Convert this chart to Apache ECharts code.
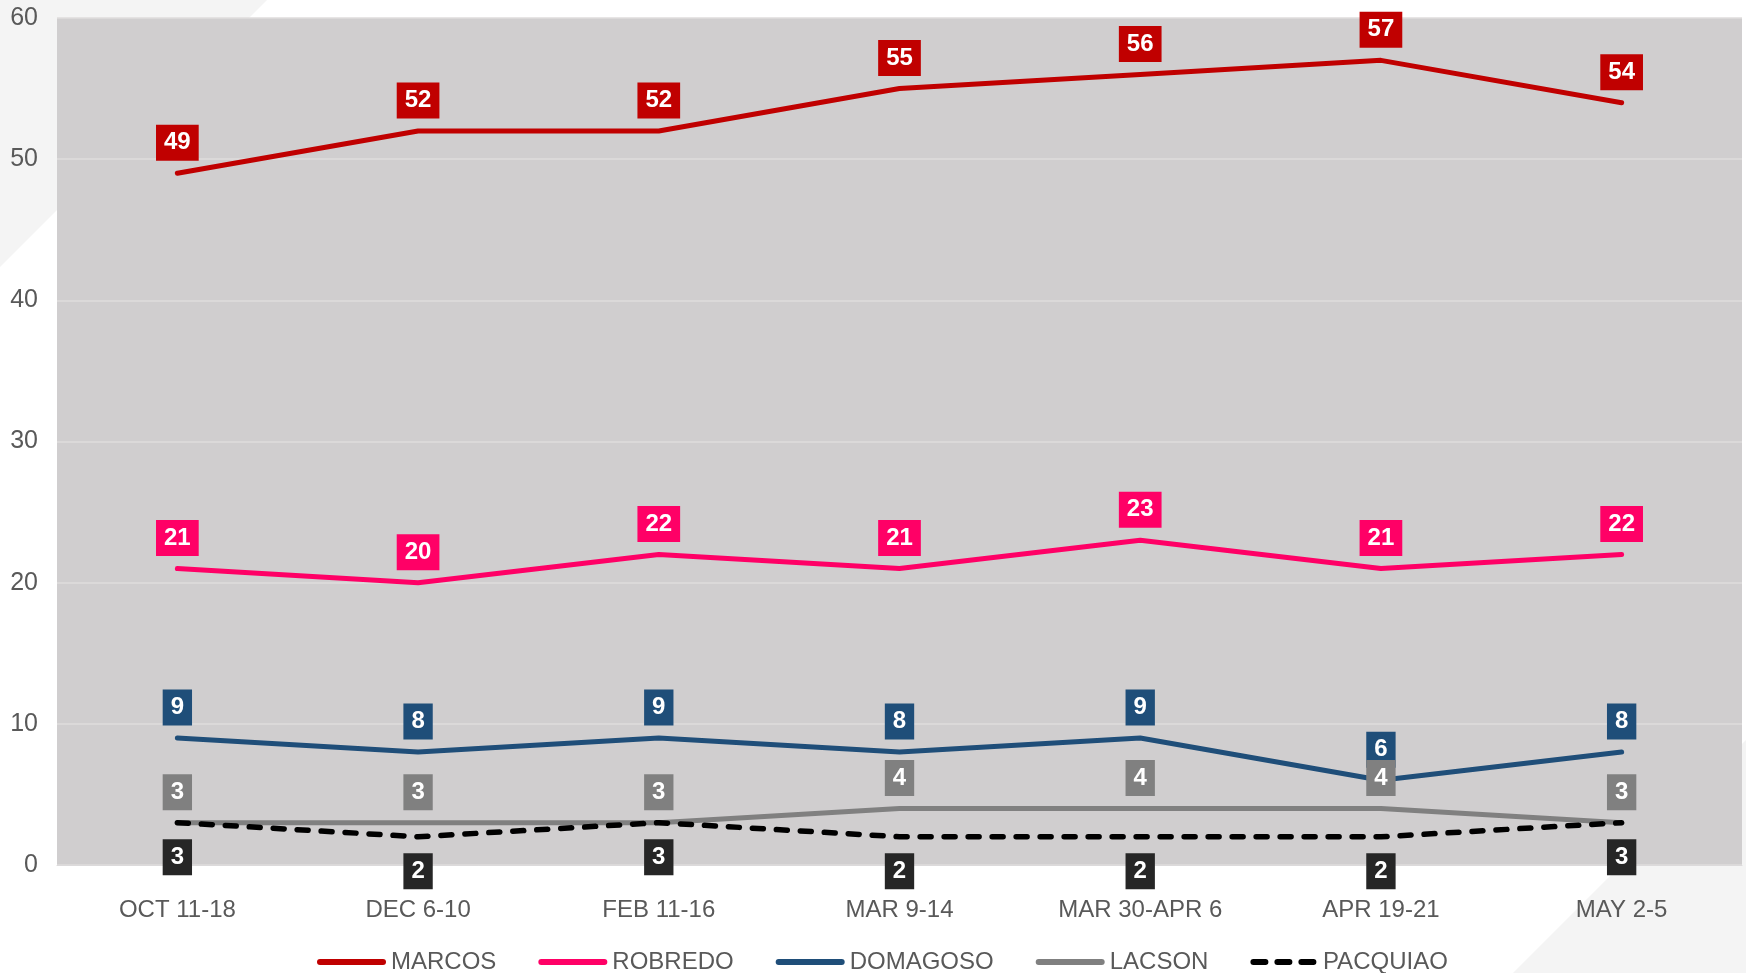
<!DOCTYPE html>
<html>
<head>
<meta charset="utf-8">
<script src="https://cdn.jsdelivr.net/npm/echarts@6/dist/echarts.min.js"></script>
<style>
html,body{margin:0;padding:0;background:#fff;}
#chart{width:1746px;height:973px;}
</style>
</head>
<body>
<div id="chart"></div>
<script>
const categories = ['OCT 11-18','DEC 6-10','FEB 11-16','MAR 9-14','MAR 30-APR 6','APR 19-21','MAY 2-5'];
const marcos   = [49,52,52,55,56,57,54];
const robredo  = [21,20,22,21,23,21,22];
const domagoso = [9,8,9,8,9,6,8];
const lacson   = [3,3,3,4,4,4,3];
const pacquiao = [3,2,3,2,2,2,3];
const yTicks = [0,10,20,30,40,50,60];

const chart = echarts.init(document.getElementById('chart'), null, {renderer:'canvas'});

function mkSeries(name, data, color, labelBg, opts) {
  opts = opts || {};
  return {
    name: name,
    type: 'line',
    data: data,
    symbol: 'circle',
    symbolSize: 1,
    showSymbol: true,
    itemStyle: {color: color},
    color: color,
    lineStyle: Object.assign({color: color, width: 5, cap: 'round', join: 'round'}, opts.line || {}),
    label: {
      show: true,
      position: opts.pos || 'top',
      distance: opts.dist || 12,
      color: '#fff',
      fontFamily: 'Liberation Sans, Arial, sans-serif',
      fontWeight: 'bold',
      fontSize: 24,
      lineHeight: 24,
      backgroundColor: labelBg,
      padding: [6, 8, 6, 8]
    },
    emphasis: {disabled: true},
    z: opts.z || 2
  };
}

const solidIcon = 'path://M3,0 H66 A3,3 0 0 1 66,6 H3 A3,3 0 0 1 3,0 Z';
const dashIcon = 'path://M3,0 H15 A3,3 0 0 1 15,6 H3 A3,3 0 0 1 3,0 Z M27,0 H39 A3,3 0 0 1 39,6 H27 A3,3 0 0 1 27,0 Z M51,0 H63 A3,3 0 0 1 63,6 H51 A3,3 0 0 1 51,0 Z';

chart.setOption({
  animation: false,
  backgroundColor: '#ffffff',
  graphic: [
    {type:'polygon', shape:{points:[[0,0],[267,0],[0,267]]}, style:{fill:'#f4f4f4'}, z:-10},
    {type:'polygon', shape:{points:[[1746,740],[1746,973],[1513,973]]}, style:{fill:'#f4f4f4'}, z:-10}
  ],
  grid: {
    left: 57, right: 4, top: 18, bottom: 108,
    show: true, backgroundColor: '#d0cecf', borderWidth: 0,
    containLabel: false
  },
  legend: {
    left: 312, top: 945,
    itemWidth: 69, itemHeight: 6, itemGap: 42,
    textStyle: {color:'#595959', fontSize: 24, fontFamily:'Liberation Sans, Arial, sans-serif'},
    data: [
      {name:'MARCOS', icon: solidIcon},
      {name:'ROBREDO', icon: solidIcon},
      {name:'DOMAGOSO', icon: solidIcon},
      {name:'LACSON', icon: solidIcon},
      {name:'PACQUIAO', icon: dashIcon}
    ]
  },
  xAxis: {
    type: 'category',
    data: categories,
    boundaryGap: true,
    axisLine: {show: true, lineStyle:{color:'#dcdadb', width:1}},
    axisTick: {show: false},
    axisLabel: {color:'#595959', fontSize: 24, margin: 33, fontFamily:'Liberation Sans, Arial, sans-serif'},
    splitLine: {show:false}
  },
  yAxis: {
    type: 'value',
    min: yTicks[0], max: yTicks[yTicks.length-1], interval: 10,
    axisLine: {show:false},
    axisTick: {show:false},
    axisLabel: {color:'#595959', fontSize: 25, margin: 19, fontFamily:'Liberation Sans, Arial, sans-serif'},
    splitLine: {show:true, lineStyle:{color:'#dfdddd', width:1.5}}
  },
  series: [
    mkSeries('MARCOS', marcos, '#c00000', '#c00000'),
    mkSeries('ROBREDO', robredo, '#ff0066', '#ff0066'),
    mkSeries('DOMAGOSO', domagoso, '#1f4e79', '#1f4e79'),
    mkSeries('LACSON', lacson, '#808080', '#808080'),
    mkSeries('PACQUIAO', pacquiao, '#000000', '#262626', {pos:'bottom', dist:16, line:{type:[11,13], width:5.5}, z:3})
  ]
});
</script>
</body>
</html>
